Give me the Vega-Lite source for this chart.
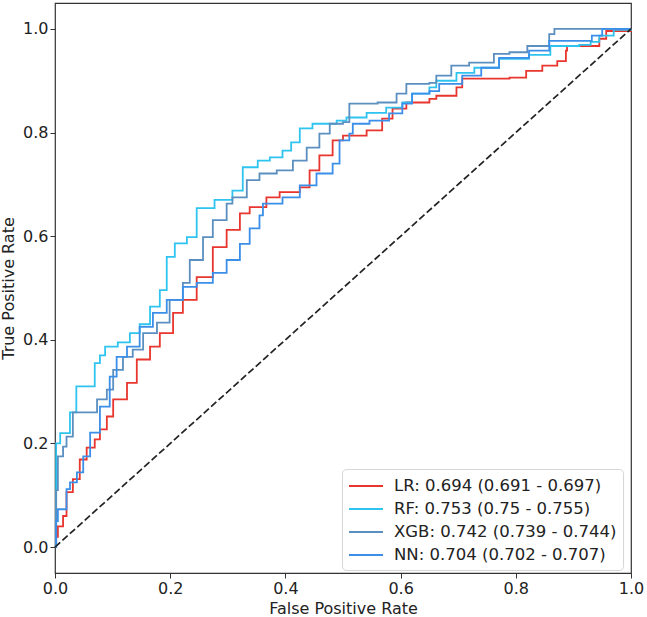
{
  "$schema": "https://vega.github.io/schema/vega-lite/v6.json",
  "width": 576,
  "height": 570,
  "autosize": {"type": "none"},
  "padding": {"left": 55, "top": 3, "right": 16, "bottom": 44},
  "config": {
    "view": {"stroke": "#333333", "strokeWidth": 1.2},
    "font": "DejaVu Sans",
    "axis": {"grid": false, "domain": false, "tickColor": "#333333", "tickSize": 5, "labelFontSize": 16, "labelColor": "#222222", "titleFontSize": 16, "titleFontWeight": "normal", "titleColor": "#222222", "labelFlush": false}
  },
  "datasets": {
    "roc": [
      {"m": "LR: 0.694 (0.691 - 0.697)", "fpr": 0, "tpr": 0},
      {"m": "LR: 0.694 (0.691 - 0.697)", "fpr": 0.002, "tpr": 0.02},
      {"m": "LR: 0.694 (0.691 - 0.697)", "fpr": 0.005, "tpr": 0.04},
      {"m": "LR: 0.694 (0.691 - 0.697)", "fpr": 0.014, "tpr": 0.06},
      {"m": "LR: 0.694 (0.691 - 0.697)", "fpr": 0.02, "tpr": 0.106},
      {"m": "LR: 0.694 (0.691 - 0.697)", "fpr": 0.031, "tpr": 0.131},
      {"m": "LR: 0.694 (0.691 - 0.697)", "fpr": 0.043, "tpr": 0.169},
      {"m": "LR: 0.694 (0.691 - 0.697)", "fpr": 0.055, "tpr": 0.192},
      {"m": "LR: 0.694 (0.691 - 0.697)", "fpr": 0.069, "tpr": 0.208},
      {"m": "LR: 0.694 (0.691 - 0.697)", "fpr": 0.078, "tpr": 0.227},
      {"m": "LR: 0.694 (0.691 - 0.697)", "fpr": 0.09, "tpr": 0.252},
      {"m": "LR: 0.694 (0.691 - 0.697)", "fpr": 0.101, "tpr": 0.285},
      {"m": "LR: 0.694 (0.691 - 0.697)", "fpr": 0.12, "tpr": 0.285},
      {"m": "LR: 0.694 (0.691 - 0.697)", "fpr": 0.125, "tpr": 0.317},
      {"m": "LR: 0.694 (0.691 - 0.697)", "fpr": 0.142, "tpr": 0.362},
      {"m": "LR: 0.694 (0.691 - 0.697)", "fpr": 0.165, "tpr": 0.387},
      {"m": "LR: 0.694 (0.691 - 0.697)", "fpr": 0.182, "tpr": 0.413},
      {"m": "LR: 0.694 (0.691 - 0.697)", "fpr": 0.205, "tpr": 0.452},
      {"m": "LR: 0.694 (0.691 - 0.697)", "fpr": 0.222, "tpr": 0.477},
      {"m": "LR: 0.694 (0.691 - 0.697)", "fpr": 0.246, "tpr": 0.521},
      {"m": "LR: 0.694 (0.691 - 0.697)", "fpr": 0.274, "tpr": 0.579},
      {"m": "LR: 0.694 (0.691 - 0.697)", "fpr": 0.298, "tpr": 0.612},
      {"m": "LR: 0.694 (0.691 - 0.697)", "fpr": 0.321, "tpr": 0.644},
      {"m": "LR: 0.694 (0.691 - 0.697)", "fpr": 0.338, "tpr": 0.656},
      {"m": "LR: 0.694 (0.691 - 0.697)", "fpr": 0.367, "tpr": 0.675},
      {"m": "LR: 0.694 (0.691 - 0.697)", "fpr": 0.39, "tpr": 0.685},
      {"m": "LR: 0.694 (0.691 - 0.697)", "fpr": 0.425, "tpr": 0.694},
      {"m": "LR: 0.694 (0.691 - 0.697)", "fpr": 0.442, "tpr": 0.727},
      {"m": "LR: 0.694 (0.691 - 0.697)", "fpr": 0.459, "tpr": 0.756},
      {"m": "LR: 0.694 (0.691 - 0.697)", "fpr": 0.482, "tpr": 0.785},
      {"m": "LR: 0.694 (0.691 - 0.697)", "fpr": 0.5, "tpr": 0.794},
      {"m": "LR: 0.694 (0.691 - 0.697)", "fpr": 0.541, "tpr": 0.804},
      {"m": "LR: 0.694 (0.691 - 0.697)", "fpr": 0.568, "tpr": 0.827},
      {"m": "LR: 0.694 (0.691 - 0.697)", "fpr": 0.586, "tpr": 0.846},
      {"m": "LR: 0.694 (0.691 - 0.697)", "fpr": 0.61, "tpr": 0.858},
      {"m": "LR: 0.694 (0.691 - 0.697)", "fpr": 0.65, "tpr": 0.865},
      {"m": "LR: 0.694 (0.691 - 0.697)", "fpr": 0.662, "tpr": 0.871},
      {"m": "LR: 0.694 (0.691 - 0.697)", "fpr": 0.697, "tpr": 0.887},
      {"m": "LR: 0.694 (0.691 - 0.697)", "fpr": 0.707, "tpr": 0.904},
      {"m": "LR: 0.694 (0.691 - 0.697)", "fpr": 0.789, "tpr": 0.906},
      {"m": "LR: 0.694 (0.691 - 0.697)", "fpr": 0.818, "tpr": 0.919},
      {"m": "LR: 0.694 (0.691 - 0.697)", "fpr": 0.846, "tpr": 0.929},
      {"m": "LR: 0.694 (0.691 - 0.697)", "fpr": 0.872, "tpr": 0.938},
      {"m": "LR: 0.694 (0.691 - 0.697)", "fpr": 0.887, "tpr": 0.958},
      {"m": "LR: 0.694 (0.691 - 0.697)", "fpr": 0.889, "tpr": 0.967},
      {"m": "LR: 0.694 (0.691 - 0.697)", "fpr": 0.91, "tpr": 0.967},
      {"m": "LR: 0.694 (0.691 - 0.697)", "fpr": 0.945, "tpr": 0.981},
      {"m": "LR: 0.694 (0.691 - 0.697)", "fpr": 0.957, "tpr": 0.996},
      {"m": "LR: 0.694 (0.691 - 0.697)", "fpr": 1, "tpr": 1},

      {"m": "RF: 0.753 (0.75 - 0.755)", "fpr": 0, "tpr": 0},
      {"m": "RF: 0.753 (0.75 - 0.755)", "fpr": 0.002, "tpr": 0.2},
      {"m": "RF: 0.753 (0.75 - 0.755)", "fpr": 0.009, "tpr": 0.22},
      {"m": "RF: 0.753 (0.75 - 0.755)", "fpr": 0.026, "tpr": 0.26},
      {"m": "RF: 0.753 (0.75 - 0.755)", "fpr": 0.037, "tpr": 0.31},
      {"m": "RF: 0.753 (0.75 - 0.755)", "fpr": 0.052, "tpr": 0.31},
      {"m": "RF: 0.753 (0.75 - 0.755)", "fpr": 0.069, "tpr": 0.355},
      {"m": "RF: 0.753 (0.75 - 0.755)", "fpr": 0.078, "tpr": 0.37},
      {"m": "RF: 0.753 (0.75 - 0.755)", "fpr": 0.087, "tpr": 0.387},
      {"m": "RF: 0.753 (0.75 - 0.755)", "fpr": 0.109, "tpr": 0.395},
      {"m": "RF: 0.753 (0.75 - 0.755)", "fpr": 0.13, "tpr": 0.413},
      {"m": "RF: 0.753 (0.75 - 0.755)", "fpr": 0.147, "tpr": 0.43},
      {"m": "RF: 0.753 (0.75 - 0.755)", "fpr": 0.165, "tpr": 0.464},
      {"m": "RF: 0.753 (0.75 - 0.755)", "fpr": 0.182, "tpr": 0.496},
      {"m": "RF: 0.753 (0.75 - 0.755)", "fpr": 0.194, "tpr": 0.56},
      {"m": "RF: 0.753 (0.75 - 0.755)", "fpr": 0.208, "tpr": 0.586},
      {"m": "RF: 0.753 (0.75 - 0.755)", "fpr": 0.229, "tpr": 0.598},
      {"m": "RF: 0.753 (0.75 - 0.755)", "fpr": 0.246, "tpr": 0.654},
      {"m": "RF: 0.753 (0.75 - 0.755)", "fpr": 0.277, "tpr": 0.67},
      {"m": "RF: 0.753 (0.75 - 0.755)", "fpr": 0.308, "tpr": 0.688},
      {"m": "RF: 0.753 (0.75 - 0.755)", "fpr": 0.326, "tpr": 0.733},
      {"m": "RF: 0.753 (0.75 - 0.755)", "fpr": 0.352, "tpr": 0.746},
      {"m": "RF: 0.753 (0.75 - 0.755)", "fpr": 0.373, "tpr": 0.752},
      {"m": "RF: 0.753 (0.75 - 0.755)", "fpr": 0.395, "tpr": 0.765},
      {"m": "RF: 0.753 (0.75 - 0.755)", "fpr": 0.41, "tpr": 0.781},
      {"m": "RF: 0.753 (0.75 - 0.755)", "fpr": 0.425, "tpr": 0.808},
      {"m": "RF: 0.753 (0.75 - 0.755)", "fpr": 0.447, "tpr": 0.817},
      {"m": "RF: 0.753 (0.75 - 0.755)", "fpr": 0.489, "tpr": 0.823},
      {"m": "RF: 0.753 (0.75 - 0.755)", "fpr": 0.506, "tpr": 0.829},
      {"m": "RF: 0.753 (0.75 - 0.755)", "fpr": 0.541, "tpr": 0.838},
      {"m": "RF: 0.753 (0.75 - 0.755)", "fpr": 0.575, "tpr": 0.848},
      {"m": "RF: 0.753 (0.75 - 0.755)", "fpr": 0.603, "tpr": 0.858},
      {"m": "RF: 0.753 (0.75 - 0.755)", "fpr": 0.62, "tpr": 0.875},
      {"m": "RF: 0.753 (0.75 - 0.755)", "fpr": 0.65, "tpr": 0.887},
      {"m": "RF: 0.753 (0.75 - 0.755)", "fpr": 0.662, "tpr": 0.9},
      {"m": "RF: 0.753 (0.75 - 0.755)", "fpr": 0.697, "tpr": 0.915},
      {"m": "RF: 0.753 (0.75 - 0.755)", "fpr": 0.728, "tpr": 0.925},
      {"m": "RF: 0.753 (0.75 - 0.755)", "fpr": 0.771, "tpr": 0.942},
      {"m": "RF: 0.753 (0.75 - 0.755)", "fpr": 0.823, "tpr": 0.95},
      {"m": "RF: 0.753 (0.75 - 0.755)", "fpr": 0.86, "tpr": 0.967},
      {"m": "RF: 0.753 (0.75 - 0.755)", "fpr": 0.91, "tpr": 0.969},
      {"m": "RF: 0.753 (0.75 - 0.755)", "fpr": 0.93, "tpr": 0.975},
      {"m": "RF: 0.753 (0.75 - 0.755)", "fpr": 0.945, "tpr": 0.987},
      {"m": "RF: 0.753 (0.75 - 0.755)", "fpr": 0.97, "tpr": 0.998},
      {"m": "RF: 0.753 (0.75 - 0.755)", "fpr": 1, "tpr": 1},

      {"m": "XGB: 0.742 (0.739 - 0.744)", "fpr": 0, "tpr": 0},
      {"m": "XGB: 0.742 (0.739 - 0.744)", "fpr": 0.002, "tpr": 0.11},
      {"m": "XGB: 0.742 (0.739 - 0.744)", "fpr": 0.005, "tpr": 0.175},
      {"m": "XGB: 0.742 (0.739 - 0.744)", "fpr": 0.014, "tpr": 0.194},
      {"m": "XGB: 0.742 (0.739 - 0.744)", "fpr": 0.02, "tpr": 0.213},
      {"m": "XGB: 0.742 (0.739 - 0.744)", "fpr": 0.031, "tpr": 0.26},
      {"m": "XGB: 0.742 (0.739 - 0.744)", "fpr": 0.055, "tpr": 0.26},
      {"m": "XGB: 0.742 (0.739 - 0.744)", "fpr": 0.073, "tpr": 0.285},
      {"m": "XGB: 0.742 (0.739 - 0.744)", "fpr": 0.09, "tpr": 0.304},
      {"m": "XGB: 0.742 (0.739 - 0.744)", "fpr": 0.101, "tpr": 0.342},
      {"m": "XGB: 0.742 (0.739 - 0.744)", "fpr": 0.118, "tpr": 0.367},
      {"m": "XGB: 0.742 (0.739 - 0.744)", "fpr": 0.135, "tpr": 0.381},
      {"m": "XGB: 0.742 (0.739 - 0.744)", "fpr": 0.153, "tpr": 0.413},
      {"m": "XGB: 0.742 (0.739 - 0.744)", "fpr": 0.177, "tpr": 0.433},
      {"m": "XGB: 0.742 (0.739 - 0.744)", "fpr": 0.199, "tpr": 0.477},
      {"m": "XGB: 0.742 (0.739 - 0.744)", "fpr": 0.222, "tpr": 0.51},
      {"m": "XGB: 0.742 (0.739 - 0.744)", "fpr": 0.234, "tpr": 0.554},
      {"m": "XGB: 0.742 (0.739 - 0.744)", "fpr": 0.257, "tpr": 0.598},
      {"m": "XGB: 0.742 (0.739 - 0.744)", "fpr": 0.274, "tpr": 0.631},
      {"m": "XGB: 0.742 (0.739 - 0.744)", "fpr": 0.298, "tpr": 0.663},
      {"m": "XGB: 0.742 (0.739 - 0.744)", "fpr": 0.308, "tpr": 0.675},
      {"m": "XGB: 0.742 (0.739 - 0.744)", "fpr": 0.333, "tpr": 0.708},
      {"m": "XGB: 0.742 (0.739 - 0.744)", "fpr": 0.355, "tpr": 0.721},
      {"m": "XGB: 0.742 (0.739 - 0.744)", "fpr": 0.385, "tpr": 0.727},
      {"m": "XGB: 0.742 (0.739 - 0.744)", "fpr": 0.413, "tpr": 0.746},
      {"m": "XGB: 0.742 (0.739 - 0.744)", "fpr": 0.437, "tpr": 0.771},
      {"m": "XGB: 0.742 (0.739 - 0.744)", "fpr": 0.459, "tpr": 0.798},
      {"m": "XGB: 0.742 (0.739 - 0.744)", "fpr": 0.477, "tpr": 0.817},
      {"m": "XGB: 0.742 (0.739 - 0.744)", "fpr": 0.5, "tpr": 0.82},
      {"m": "XGB: 0.742 (0.739 - 0.744)", "fpr": 0.511, "tpr": 0.856},
      {"m": "XGB: 0.742 (0.739 - 0.744)", "fpr": 0.56, "tpr": 0.858},
      {"m": "XGB: 0.742 (0.739 - 0.744)", "fpr": 0.593, "tpr": 0.875},
      {"m": "XGB: 0.742 (0.739 - 0.744)", "fpr": 0.61, "tpr": 0.894},
      {"m": "XGB: 0.742 (0.739 - 0.744)", "fpr": 0.65, "tpr": 0.896},
      {"m": "XGB: 0.742 (0.739 - 0.744)", "fpr": 0.662, "tpr": 0.91},
      {"m": "XGB: 0.742 (0.739 - 0.744)", "fpr": 0.688, "tpr": 0.929},
      {"m": "XGB: 0.742 (0.739 - 0.744)", "fpr": 0.719, "tpr": 0.935},
      {"m": "XGB: 0.742 (0.739 - 0.744)", "fpr": 0.762, "tpr": 0.952},
      {"m": "XGB: 0.742 (0.739 - 0.744)", "fpr": 0.789, "tpr": 0.955},
      {"m": "XGB: 0.742 (0.739 - 0.744)", "fpr": 0.82, "tpr": 0.967},
      {"m": "XGB: 0.742 (0.739 - 0.744)", "fpr": 0.858, "tpr": 0.99},
      {"m": "XGB: 0.742 (0.739 - 0.744)", "fpr": 0.867, "tpr": 1.0},
      {"m": "XGB: 0.742 (0.739 - 0.744)", "fpr": 1, "tpr": 1},

      {"m": "NN: 0.704 (0.702 - 0.707)", "fpr": 0, "tpr": 0},
      {"m": "NN: 0.704 (0.702 - 0.707)", "fpr": 0.002, "tpr": 0.05},
      {"m": "NN: 0.704 (0.702 - 0.707)", "fpr": 0.005, "tpr": 0.073},
      {"m": "NN: 0.704 (0.702 - 0.707)", "fpr": 0.014, "tpr": 0.073},
      {"m": "NN: 0.704 (0.702 - 0.707)", "fpr": 0.02, "tpr": 0.112},
      {"m": "NN: 0.704 (0.702 - 0.707)", "fpr": 0.026, "tpr": 0.125},
      {"m": "NN: 0.704 (0.702 - 0.707)", "fpr": 0.038, "tpr": 0.144},
      {"m": "NN: 0.704 (0.702 - 0.707)", "fpr": 0.049, "tpr": 0.175},
      {"m": "NN: 0.704 (0.702 - 0.707)", "fpr": 0.061, "tpr": 0.221},
      {"m": "NN: 0.704 (0.702 - 0.707)", "fpr": 0.078, "tpr": 0.271},
      {"m": "NN: 0.704 (0.702 - 0.707)", "fpr": 0.095, "tpr": 0.329},
      {"m": "NN: 0.704 (0.702 - 0.707)", "fpr": 0.107, "tpr": 0.367},
      {"m": "NN: 0.704 (0.702 - 0.707)", "fpr": 0.125, "tpr": 0.387},
      {"m": "NN: 0.704 (0.702 - 0.707)", "fpr": 0.147, "tpr": 0.425},
      {"m": "NN: 0.704 (0.702 - 0.707)", "fpr": 0.17, "tpr": 0.452},
      {"m": "NN: 0.704 (0.702 - 0.707)", "fpr": 0.194, "tpr": 0.477},
      {"m": "NN: 0.704 (0.702 - 0.707)", "fpr": 0.222, "tpr": 0.502},
      {"m": "NN: 0.704 (0.702 - 0.707)", "fpr": 0.246, "tpr": 0.51},
      {"m": "NN: 0.704 (0.702 - 0.707)", "fpr": 0.274, "tpr": 0.529},
      {"m": "NN: 0.704 (0.702 - 0.707)", "fpr": 0.298, "tpr": 0.554},
      {"m": "NN: 0.704 (0.702 - 0.707)", "fpr": 0.321, "tpr": 0.585},
      {"m": "NN: 0.704 (0.702 - 0.707)", "fpr": 0.338, "tpr": 0.615},
      {"m": "NN: 0.704 (0.702 - 0.707)", "fpr": 0.355, "tpr": 0.64},
      {"m": "NN: 0.704 (0.702 - 0.707)", "fpr": 0.361, "tpr": 0.663},
      {"m": "NN: 0.704 (0.702 - 0.707)", "fpr": 0.395, "tpr": 0.675},
      {"m": "NN: 0.704 (0.702 - 0.707)", "fpr": 0.425, "tpr": 0.698},
      {"m": "NN: 0.704 (0.702 - 0.707)", "fpr": 0.454, "tpr": 0.721},
      {"m": "NN: 0.704 (0.702 - 0.707)", "fpr": 0.482, "tpr": 0.74},
      {"m": "NN: 0.704 (0.702 - 0.707)", "fpr": 0.494, "tpr": 0.785},
      {"m": "NN: 0.704 (0.702 - 0.707)", "fpr": 0.511, "tpr": 0.798},
      {"m": "NN: 0.704 (0.702 - 0.707)", "fpr": 0.517, "tpr": 0.817},
      {"m": "NN: 0.704 (0.702 - 0.707)", "fpr": 0.546, "tpr": 0.823},
      {"m": "NN: 0.704 (0.702 - 0.707)", "fpr": 0.58, "tpr": 0.837},
      {"m": "NN: 0.704 (0.702 - 0.707)", "fpr": 0.603, "tpr": 0.856},
      {"m": "NN: 0.704 (0.702 - 0.707)", "fpr": 0.62, "tpr": 0.875},
      {"m": "NN: 0.704 (0.702 - 0.707)", "fpr": 0.65, "tpr": 0.88},
      {"m": "NN: 0.704 (0.702 - 0.707)", "fpr": 0.667, "tpr": 0.894},
      {"m": "NN: 0.704 (0.702 - 0.707)", "fpr": 0.707, "tpr": 0.91},
      {"m": "NN: 0.704 (0.702 - 0.707)", "fpr": 0.74, "tpr": 0.925},
      {"m": "NN: 0.704 (0.702 - 0.707)", "fpr": 0.771, "tpr": 0.944},
      {"m": "NN: 0.704 (0.702 - 0.707)", "fpr": 0.823, "tpr": 0.958},
      {"m": "NN: 0.704 (0.702 - 0.707)", "fpr": 0.858, "tpr": 0.977},
      {"m": "NN: 0.704 (0.702 - 0.707)", "fpr": 0.932, "tpr": 0.987},
      {"m": "NN: 0.704 (0.702 - 0.707)", "fpr": 0.95, "tpr": 1.0},
      {"m": "NN: 0.704 (0.702 - 0.707)", "fpr": 1, "tpr": 1}
    ],
    "diag": [{"fpr": 0, "tpr": 0}, {"fpr": 1, "tpr": 1}]
  },
  "layer": [
    {
      "data": {"name": "roc"},
      "mark": {"type": "line", "interpolate": "step-after", "strokeWidth": 1.8},
      "encoding": {
        "x": {"field": "fpr", "type": "quantitative", "scale": {"domain": [0, 1], "nice": false, "zero": false}, "axis": {"values": [0, 0.2, 0.4, 0.6, 0.8, 1.0], "format": ".1f", "title": "False Positive Rate", "titlePadding": 4}},
        "y": {"field": "tpr", "type": "quantitative", "scale": {"domain": [-0.05, 1.05], "nice": false, "zero": false}, "axis": {"values": [0, 0.2, 0.4, 0.6, 0.8, 1.0], "format": ".1f", "title": "True Positive Rate", "titlePadding": 6}},
        "color": {
          "field": "m", "type": "nominal",
          "scale": {"domain": ["LR: 0.694 (0.691 - 0.697)", "RF: 0.753 (0.75 - 0.755)", "XGB: 0.742 (0.739 - 0.744)", "NN: 0.704 (0.702 - 0.707)"], "range": ["#e8352e", "#2fc4ef", "#5a8fc0", "#3b8fe8"]},
          "legend": {"title": null, "orient": "none", "legendX": 287, "legendY": 466, "symbolType": "M-1,0H2.4", "symbolSize": 400, "symbolStrokeWidth": 2, "labelOffset": 24, "labelFontSize": 16.5, "labelColor": "#222222", "labelLimit": 400, "rowPadding": 3, "padding": 6, "strokeColor": "#d6d6d6", "fillColor": "#ffffff", "cornerRadius": 4, "offset": 0}
        }
      }
    },
    {
      "data": {"name": "diag"},
      "mark": {"type": "line", "color": "#222222", "strokeWidth": 1.7, "strokeDash": [7, 3]},
      "encoding": {
        "x": {"field": "fpr", "type": "quantitative"},
        "y": {"field": "tpr", "type": "quantitative"}
      }
    }
  ]
}
